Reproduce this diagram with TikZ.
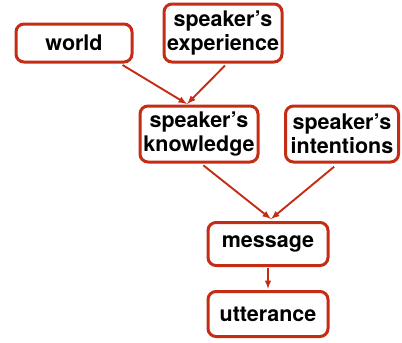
\documentclass[tikz,border=0pt]{standalone}
\usepackage{fontspec}
\setmainfont{TeX Gyre Heros}
\usetikzlibrary{positioning}
\usetikzlibrary{arrows}
\definecolor{boxred}{RGB}{196,44,20}

\begin{document}
\begin{tikzpicture}[x=1pt, y=-1pt, >=latex,
box/.style={draw=boxred, line width=3pt, rounded corners=8pt, fill=white, align=center, inner sep=0pt, font=\fontsize{21.5}{24.5}\selectfont\bfseries},
link/.style={->, draw=boxred, line width=1.9pt}]

\useasboundingbox (0,0) rectangle (402,343);

\node [box, minimum width=116pt, minimum height=38pt] (world) at (74,43) {world};
\node [box, minimum width=118pt, minimum height=58pt] (exper) at (223,33) {speaker’s\\experience};
\node [box, minimum width=118pt, minimum height=56pt] (know) at (199,134) {speaker’s\\knowledge};
\node [box, minimum width=113pt, minimum height=56pt] (intent) at (342,134) {speaker’s\\intentions};
\node [box, minimum width=120pt, minimum height=43pt] (msg) at (268,244) {message};
\node [box, minimum width=120pt, minimum height=45pt] (utt) at (268,314) {utterance};

\coordinate (kin) at (187,104);
\coordinate (min) at (271,219);

%% arrows
\draw [link, shorten <=3pt] (world.-24) -- (kin);
\draw [link, shorten <=3pt] (exper.south) ++(4,0) -- (kin);
\draw [link, shorten <=3pt] (know.south) ++(2,0) -- (min);
\draw [link, shorten <=5pt] (intent.south) ++(-4,0) -- (min);
\draw [link, shorten <=1pt, shorten >=1pt] (msg.south) -- (utt.north);
\end{tikzpicture}
\end{document}
